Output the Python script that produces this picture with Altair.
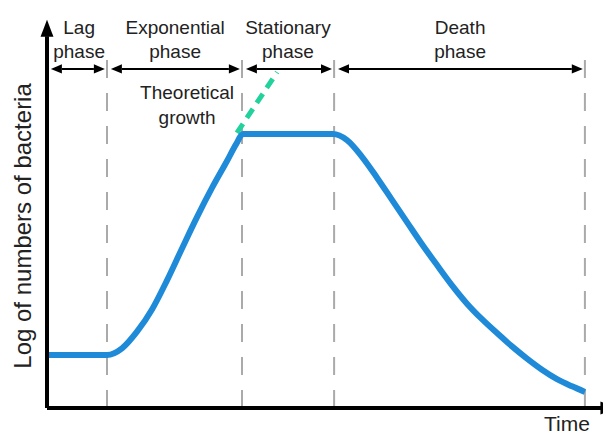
import altair as alt
import pandas as pd

# ---- data (schematic time / log-count units) ----
bounds = [0.0, 2.0, 6.5, 9.57, 17.93]
phase_labels = ["Lag\nphase", "Exponential\nphase", "Stationary\nphase", "Death\nphase"]
label_t = [1.07, 4.27, 8.03, 13.77]

curve_t = [0.0, 2.0, 2.5, 3.0, 3.5, 4.0, 4.5, 5.0, 5.5, 6.0, 6.3, 6.53,
           9.53, 10.0, 10.5, 11.0, 11.5, 12.0, 12.5, 13.0, 13.5, 14.0, 14.5,
           15.0, 15.5, 16.0, 16.5, 17.0, 17.5, 17.93]
curve_v = [1.91, 1.91, 2.15, 2.75, 3.55, 4.6, 5.75, 6.88, 7.93, 8.9, 9.5, 9.87,
           9.87, 9.65, 9.05, 8.3, 7.5, 6.7, 5.9, 5.15, 4.42, 3.76, 3.2,
           2.7, 2.22, 1.78, 1.38, 1.04, 0.78, 0.58]
theory_t = [6.33, 7.67]
theory_v = [9.91, 12.1]

X_DOM = [-1.3, 18.533]
Y_DOM = [-0.937, 14.414]
xs = alt.Scale(domain=X_DOM, nice=False, zero=False)
ys = alt.Scale(domain=Y_DOM, nice=False, zero=False)
FONT = "Liberation Sans"
TXT = "#222222"

ARROW_V = 12.22
DASH_TOP = 12.54
Y_TOP = 13.4
X_END = 18.7

def X(f="t"):
    return alt.X(f"{f}:Q", scale=xs, axis=None)

def Y(f="v"):
    return alt.Y(f"{f}:Q", scale=ys, axis=None)

curve_df = pd.DataFrame({"t": curve_t, "v": curve_v})
theory_df = pd.DataFrame({"t": theory_t, "v": theory_v})

# dashed phase dividers
div_df = pd.DataFrame({"t": bounds[1:], "v": 0.0, "v2": DASH_TOP})
dividers = alt.Chart(div_df).mark_rule(color="#aaaaaa", strokeWidth=2, strokeDash=[18, 15]).encode(
    x=X(), y=Y(), y2="v2:Q")

# phase arrows
tips_l = [b + 0.13 for b in bounds[:-1]]
tips_r = [b - 0.07 for b in bounds[1:]]
head_len = 11 / 30.0
shaft_df = pd.DataFrame({"t": [a + head_len for a in tips_l], "t2": [b - head_len for b in tips_r], "v": ARROW_V})
shafts = alt.Chart(shaft_df).mark_rule(color="black", strokeWidth=2).encode(x=X(), x2="t2:Q", y=Y())
head_r_df = pd.DataFrame({"t": [b - head_len / 2 for b in tips_r], "v": ARROW_V})
head_l_df = pd.DataFrame({"t": [a + head_len / 2 for a in tips_l], "v": ARROW_V})
head_r = alt.Chart(head_r_df).mark_point(shape="M-1,-0.82L1,0L-1,0.82Z", size=121, filled=True,
                                         color="black", opacity=1).encode(x=X(), y=Y())
head_l = alt.Chart(head_l_df).mark_point(shape="M1,-0.82L-1,0L1,0.82Z", size=121, filled=True,
                                         color="black", opacity=1).encode(x=X(), y=Y())

# phase labels (anchor = first line)
lab_df = pd.DataFrame({"t": label_t, "v": 13.69, "label": phase_labels})
labels = alt.Chart(lab_df).mark_text(font=FONT, fontSize=19, color=TXT, lineBreak="\n",
                                     lineHeight=24, align="center", baseline="middle").encode(
    x=X(), y=Y(), text="label:N")

theo_lab = alt.Chart(pd.DataFrame({"t": [4.67], "v": [11.35], "label": ["Theoretical\ngrowth"]})).mark_text(
    font=FONT, fontSize=19, color=TXT, lineBreak="\n", lineHeight=25, align="center", baseline="middle").encode(
    x=X(), y=Y(), text="label:N")

# growth curve
curve = alt.Chart(curve_df).mark_line(color="#1f8ad8", strokeWidth=6, interpolate="monotone",
                                      strokeCap="butt").encode(x=X(), y=Y(), order="t:Q")
theory = alt.Chart(theory_df).mark_line(color="#22d19b", strokeWidth=5, strokeDash=[11, 7],
                                        strokeCap="butt").encode(x=X(), y=Y())

# axes with arrows
yaxis = alt.Chart(pd.DataFrame({"t": [0.0], "v": [0.0], "v2": [Y_TOP]})).mark_rule(
    color="black", strokeWidth=4).encode(x=X(), y=Y(), y2="v2:Q")
xaxis = alt.Chart(pd.DataFrame({"t": [0.0], "t2": [X_END], "v": [0.0]})).mark_rule(
    color="black", strokeWidth=4).encode(x=X(), x2="t2:Q", y=Y())
yhead = alt.Chart(pd.DataFrame({"t": [0.0], "v": [13.68]})).mark_point(
    shape="M0,-1L0.76,1L-0.76,1Z", size=289, filled=True, color="black", opacity=1).encode(x=X(), y=Y())
xhead = alt.Chart(pd.DataFrame({"t": [18.73], "v": [0.0]})).mark_point(
    shape="M1,0L-1,0.76L-1,-0.76Z", size=289, filled=True, color="black", opacity=1).encode(x=X(), y=Y())

ylab = alt.Chart(pd.DataFrame({"t": [-0.78], "v": [6.56], "label": ["Log of numbers of bacteria"]})).mark_text(
    font=FONT, fontSize=24, color=TXT, angle=270, align="center", baseline="middle").encode(
    x=X(), y=Y(), text="label:N")
xlab = alt.Chart(pd.DataFrame({"t": [17.33], "v": [-0.62], "label": ["Time"]})).mark_text(
    font=FONT, fontSize=21, color=TXT, align="center", baseline="middle").encode(
    x=X(), y=Y(), text="label:N")

chart = alt.layer(dividers, shafts, head_r, head_l, labels, theo_lab, theory, curve,
                  yaxis, xaxis, yhead, xhead, ylab, xlab).properties(
    width=595, height=426, padding=0, autosize=alt.AutoSizeParams(type="none"),
    background="white").configure_view(stroke=None)

chart.save("out.html", embed_options={"renderer": "svg", "actions": False})
